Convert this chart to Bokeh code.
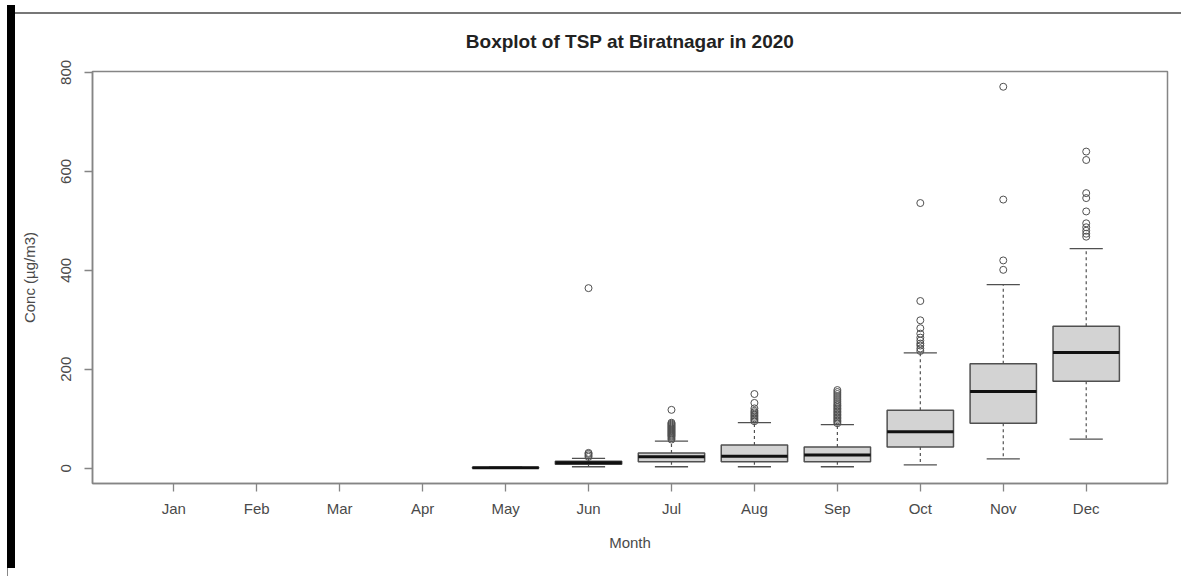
from bokeh.plotting import figure
from bokeh.models import Range1d, FixedTicker, ColumnDataSource
from bokeh.embed import file_html
from bokeh.resources import INLINE

# ---------------- data ----------------
month_names = ["Jan", "Feb", "Mar", "Apr", "May", "Jun",
               "Jul", "Aug", "Sep", "Oct", "Nov", "Dec"]
box_months = ["May", "Jun", "Jul", "Aug", "Sep", "Oct", "Nov", "Dec"]
q1 = [0.5, 8, 13, 13, 13, 43, 91, 176]
median = [1, 11, 23, 24, 27, 74, 155, 234]
q3 = [1.5, 14, 31, 47, 43, 117, 211, 287]
whisk_lo = [0, 3, 3, 3, 3, 7, 19, 59]
whisk_hi = [2, 20, 55, 92, 88, 233, 371, 444]

outliers_may = []
outliers_jun = [23, 26, 29, 31, 364]
outliers_jul = [58, 61, 64, 66, 68, 70, 72, 74, 76, 78, 80, 82, 84, 86, 88, 90, 92, 118]
outliers_aug = [95, 98, 101, 104, 107, 110, 113, 116, 121, 132, 150]
outliers_sep = [91, 94, 97, 100, 103, 106, 109, 112, 115, 118, 121, 124, 127, 130,
                134, 138, 142, 146, 150, 154, 158]
outliers_oct = [237, 242, 248, 252, 258, 264, 272, 283, 299, 338, 536]
outliers_nov = [401, 420, 543, 771]
outliers_dec = [468, 474, 480, 487, 495, 519, 546, 556, 623, 640]
outliers = [outliers_may, outliers_jun, outliers_jul, outliers_aug,
            outliers_sep, outliers_oct, outliers_nov, outliers_dec]

title_text = "Boxplot of TSP at Biratnagar in 2020"
x_label = "Month"
y_label = "Conc (µg/m3)"
y_ticks = [0, 200, 400, 600, 800]

# ---------------- build ----------------
BOX_W = 0.8
xs = [month_names.index(m) + 1 for m in box_months]
out_x, out_y = [], []
for x, vals in zip(xs, outliers):
    out_x += [x] * len(vals)
    out_y += vals

all_vals = whisk_lo + whisk_hi + out_y
lo, hi = min(all_vals), max(all_vals)
pad = 0.04 * (hi - lo)

FONT = "Liberation Sans"
FRAME = "#858585"
BOXLINE = "#505050"

p = figure(width=1181, height=576, output_backend="svg", toolbar_location=None,
           x_range=Range1d(0.5 - 0.04 * 12, 12.5 + 0.04 * 12),
           y_range=Range1d(lo - pad, hi + pad),
           min_border_left=92, min_border_right=14,
           min_border_top=71, min_border_bottom=93,
           title=title_text)
p.background_fill_color = "white"
p.border_fill_color = None
p.outline_line_color = FRAME
p.outline_line_width = 1.5
p.xgrid.visible = False
p.ygrid.visible = False

# edge artefacts of the reference screenshot, painted behind the canvas
p.styles = {
    "background-color": "white",
    "background-image": ("linear-gradient(#000,#000), linear-gradient(#777,#777), "
                         "linear-gradient(#888,#888)"),
    "background-size": "8px 563px, 1176px 2px, 1px 16px",
    "background-position": "7px 5px, 13px 12px, 7px 568px",
    "background-repeat": "no-repeat",
}

p.title.align = "center"
p.title.text_font = FONT
p.title.text_font_size = "19px"
p.title.text_font_style = "bold"
p.title.text_color = "#222222"
p.title.standoff = 40

src = ColumnDataSource(dict(
    x=xs, q1=q1, med=median, q3=q3, lo=whisk_lo, hi=whisk_hi,
    bx0=[x - BOX_W / 2 for x in xs], bx1=[x + BOX_W / 2 for x in xs],
    sx0=[x - BOX_W / 4 for x in xs], sx1=[x + BOX_W / 4 for x in xs],
))

# whiskers (dashed)
p.segment(x0="x", y0="q3", x1="x", y1="hi", source=src, line_color=BOXLINE,
          line_width=1.2, line_dash="3 3")
p.segment(x0="x", y0="q1", x1="x", y1="lo", source=src, line_color=BOXLINE,
          line_width=1.2, line_dash="3 3")
# staples
p.segment(x0="sx0", y0="hi", x1="sx1", y1="hi", source=src, line_color=BOXLINE,
          line_width=1.3)
p.segment(x0="sx0", y0="lo", x1="sx1", y1="lo", source=src, line_color=BOXLINE,
          line_width=1.3)
# boxes
p.quad(left="bx0", right="bx1", bottom="q1", top="q3", source=src,
       fill_color="#D3D3D3", line_color=BOXLINE, line_width=1.5)
# medians
p.segment(x0="bx0", y0="med", x1="bx1", y1="med", source=src,
          line_color="#111111", line_width=3)
# outliers
p.scatter(out_x, out_y, marker="circle", size=7, fill_color=None,
          line_color=BOXLINE, line_width=1)

# axes
for ax in (p.xaxis[0], p.yaxis[0]):
    ax.axis_line_color = FRAME
    ax.axis_line_width = 1.5
    ax.major_tick_line_color = FRAME
    ax.major_tick_line_width = 1.3
    ax.major_tick_out = 8
    ax.major_tick_in = 0
    ax.minor_tick_line_color = None
    ax.major_label_text_font = FONT
    ax.major_label_text_font_size = "15px"
    ax.major_label_text_color = "#4a4a4a"
    ax.axis_label_text_font = FONT
    ax.axis_label_text_font_size = "15px"
    ax.axis_label_text_font_style = "normal"
    ax.axis_label_text_color = "#4a4a4a"

p.xaxis.ticker = FixedTicker(ticks=list(range(1, 13)))
p.xaxis.major_label_overrides = {i + 1: m for i, m in enumerate(month_names)}
p.xaxis.axis_label = x_label
p.xaxis.major_label_standoff = 8
p.xaxis.axis_label_standoff = 14

p.yaxis.ticker = FixedTicker(ticks=y_ticks)
p.yaxis.major_label_orientation = "vertical"
p.yaxis.axis_label = y_label
p.yaxis.major_label_standoff = 13
p.yaxis.axis_label_standoff = 21

open("out.html", "w").write(file_html(p, INLINE))
